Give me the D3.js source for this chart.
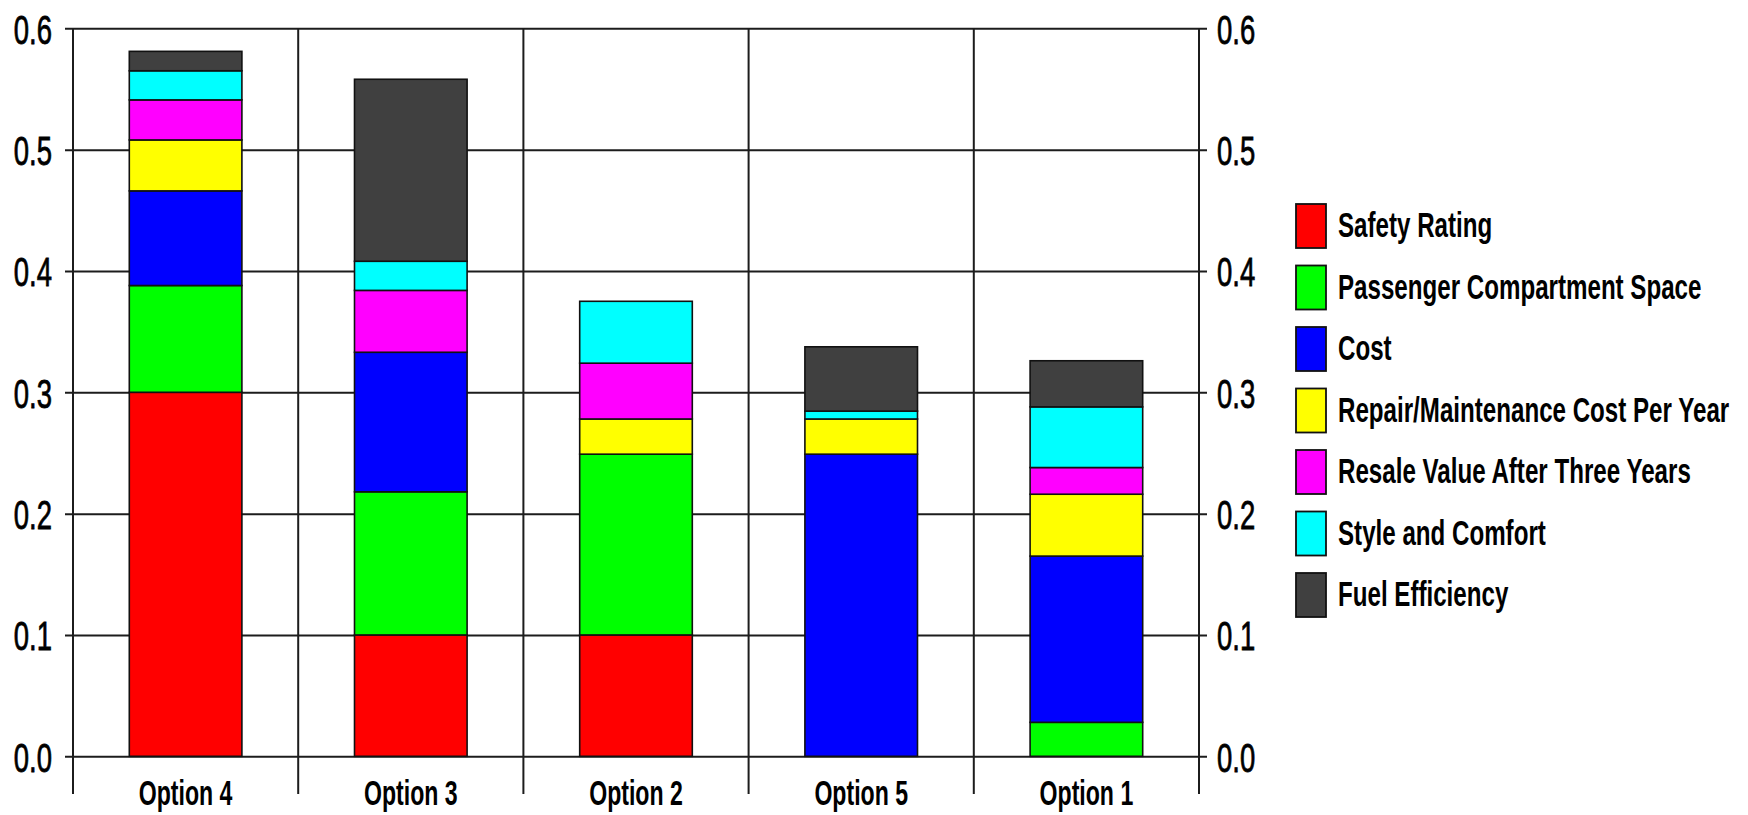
<!DOCTYPE html>
<html>
<head>
<meta charset="utf-8">
<script src="https://cdn.jsdelivr.net/npm/d3@7"></script>
<style>
  html, body { margin: 0; padding: 0; background: #fff; }
  svg { display: block; }
  text { font-family: "Liberation Sans", Arial, sans-serif; fill: #000; }
</style>
</head>
<body>
<svg id="chart" width="1748" height="815"></svg>
<script>
// Alternatives (x axis, in drawing order)
const categories = ["Option 4", "Option 3", "Option 2", "Option 5", "Option 1"];

// Criteria, stacked bottom to top
const criteria = [
  "Safety Rating",
  "Passenger Compartment Space",
  "Cost",
  "Repair/Maintenance Cost Per Year",
  "Resale Value After Three Years",
  "Style and Comfort",
  "Fuel Efficiency"
];
const colors = ["#ff0000", "#00ff00", "#0000ff", "#ffff00", "#ff00ff", "#00ffff", "#404040"];

// Weighted score contribution of each criterion per alternative
const safetyRating   = [0.300, 0.100, 0.100, 0.000, 0.000];
const passengerSpace = [0.088, 0.118, 0.149, 0.000, 0.028];
const cost           = [0.078, 0.115, 0.000, 0.249, 0.137];
const repairCost     = [0.042, 0.000, 0.029, 0.029, 0.051];
const resaleValue    = [0.033, 0.051, 0.046, 0.000, 0.022];
const styleComfort   = [0.024, 0.024, 0.051, 0.0065, 0.050];
const fuelEfficiency = [0.016, 0.150, 0.000, 0.053, 0.038];

const tickValues = [0.0, 0.1, 0.2, 0.3, 0.4, 0.5, 0.6];

const seriesValues = [safetyRating, passengerSpace, cost, repairCost, resaleValue, styleComfort, fuelEfficiency];
const table = categories.map((c, i) => {
  const row = { category: c };
  criteria.forEach((k, j) => { row[k] = seriesValues[j][i]; });
  return row;
});

const svg = d3.select("#chart");
const plot = { left: 73, right: 1199, top: 28.3, bottom: 756.3 };
const axisBottomEnd = 794;
const tickLen = 8;
const narrow = 0.67;

const x = d3.scaleBand()
  .domain(categories)
  .range([plot.left, plot.right])
  .paddingInner(0.5)
  .paddingOuter(0.25);

const y = d3.scaleLinear().domain([0, 0.6]).range([plot.bottom, plot.top]);

const lineColor = "#1c1c1c";

// Horizontal grid lines (extend past both axes as tick marks)
const grid = svg.append("g").attr("transform", `translate(${plot.left},0)`)
  .call(d3.axisLeft(y).tickValues(tickValues).tickSize(-(plot.right - plot.left)).tickFormat(""));
grid.select(".domain").remove();
grid.selectAll(".tick line")
  .attr("x1", -tickLen)
  .attr("x2", plot.right - plot.left + tickLen)
  .attr("stroke", lineColor).attr("stroke-width", 2);

// Vertical axis lines and category separators
const step = x.step();
const xStart = x.range()[0];
const separators = d3.range(categories.length + 1).map(i => xStart + i * step);
svg.append("g").selectAll("line").data(separators).join("line")
  .attr("x1", d => d).attr("x2", d => d)
  .attr("y1", plot.top).attr("y2", axisBottomEnd)
  .attr("stroke", lineColor).attr("stroke-width", 2);

// Stacked bars
const stacked = d3.stack().keys(criteria)(table);
const color = d3.scaleOrdinal().domain(criteria).range(colors);

svg.append("g").selectAll("g").data(stacked).join("g")
  .attr("fill", d => color(d.key))
  .selectAll("rect")
  .data(d => d.filter(s => s[1] - s[0] > 0))
  .join("rect")
  .attr("x", d => x(d.data.category))
  .attr("width", x.bandwidth())
  .attr("y", d => y(d[1]))
  .attr("height", d => y(d[0]) - y(d[1]))
  .attr("stroke", "#111")
  .attr("stroke-width", 1.6);

// Y tick labels, left and right
const fmt = d3.format(".1f");
const styleTickText = sel => sel
  .attr("x", 0).attr("dy", "0.36em")
  .style("font-size", "41px")
  .style("stroke", "#000")
  .style("stroke-width", "0.8px");

const leftAxis = svg.append("g").attr("transform", `translate(${plot.left},0)`)
  .call(d3.axisLeft(y).tickValues(tickValues).tickFormat(fmt).tickSize(0));
leftAxis.select(".domain").remove();
leftAxis.selectAll("text")
  .call(styleTickText)
  .attr("text-anchor", "end")
  .attr("transform", `translate(-21,0) scale(${narrow},1)`);

const rightAxis = svg.append("g").attr("transform", `translate(${plot.right},0)`)
  .call(d3.axisRight(y).tickValues(tickValues).tickFormat(fmt).tickSize(0));
rightAxis.select(".domain").remove();
rightAxis.selectAll("text")
  .call(styleTickText)
  .attr("text-anchor", "start")
  .attr("transform", `translate(18,0) scale(${narrow},1)`);

// Category labels
const bottomAxis = svg.append("g").attr("transform", `translate(0,${plot.bottom})`)
  .call(d3.axisBottom(x).tickSize(0));
bottomAxis.select(".domain").remove();
bottomAxis.selectAll("text")
  .attr("y", 0).attr("dy", 0)
  .attr("text-anchor", "middle")
  .attr("transform", `translate(0,49) scale(0.66,1)`)
  .style("font-size", "35px")
  .style("font-weight", "bold");

// Legend
const legend = svg.append("g").attr("transform", "translate(1296,204)");
const item = legend.selectAll("g").data(criteria).join("g")
  .attr("transform", (d, i) => `translate(0,${i * 61.5})`);
item.append("rect")
  .attr("width", 30).attr("height", 44)
  .attr("fill", d => color(d))
  .attr("stroke", "#111").attr("stroke-width", 1.8);
item.append("text")
  .attr("transform", `translate(42,33) scale(0.69,1)`)
  .style("font-size", "35px")
  .style("font-weight", "bold")
  .text(d => d);
</script>
</body>
</html>
